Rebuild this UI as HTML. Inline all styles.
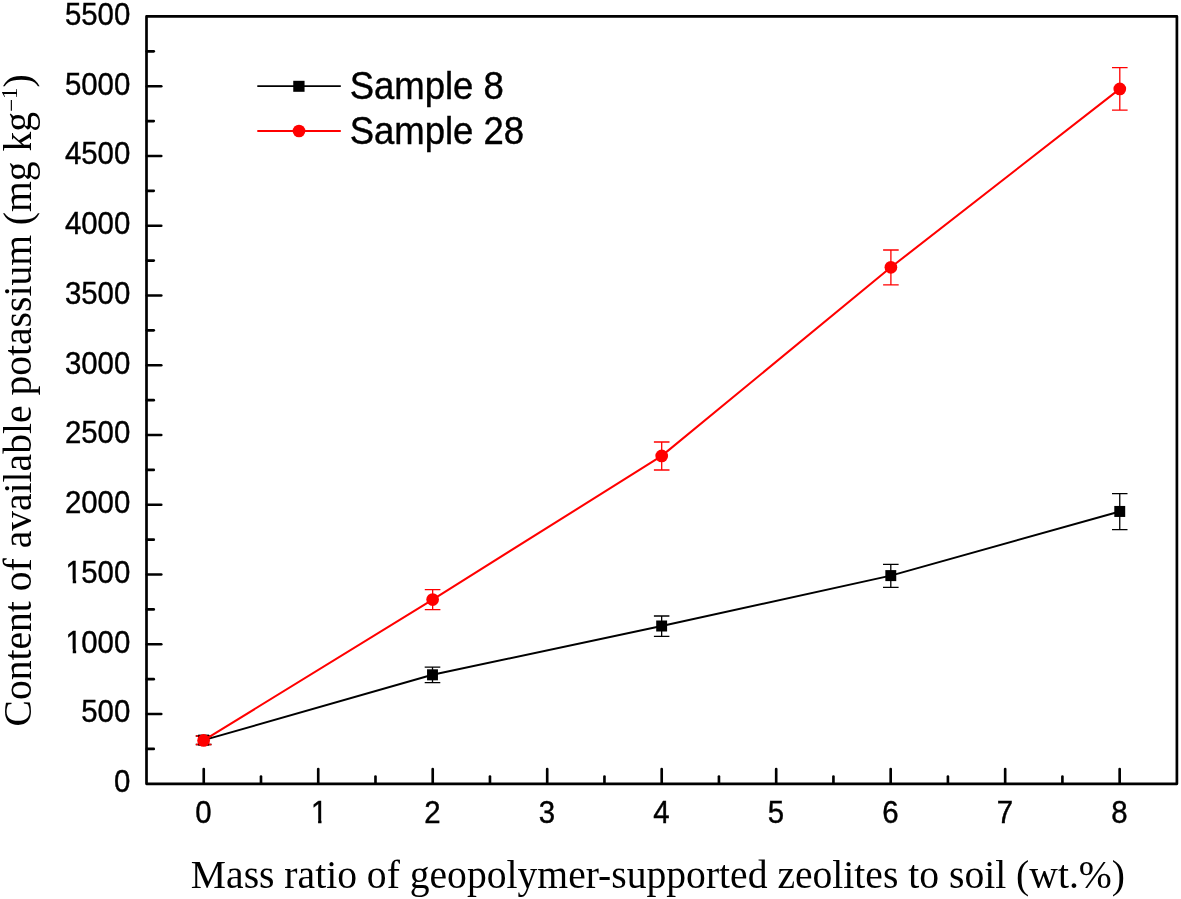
<!DOCTYPE html>
<html lang="en">
<head>
<meta charset="utf-8">
<title>Content of available potassium</title>
<style>
html,body{margin:0;padding:0;background:#fff;}
body{width:1181px;height:899px;overflow:hidden;}
svg{display:block;}
.sans{font-family:"Liberation Sans",Arial,Helvetica,sans-serif;fill:#000;}
.serif{font-family:"Liberation Serif","Times New Roman",Times,serif;fill:#000;}
</style>
</head>
<body>
<svg width="1181" height="899" viewBox="0 0 1181 899">
<rect x="0" y="0" width="1181" height="899" fill="#ffffff"/>
<rect x="146.5" y="16.45" width="1030.40" height="767.35" fill="none" stroke="#000" stroke-width="2.7" stroke-linejoin="round"/>
<g stroke="#000" stroke-width="2.65" stroke-linecap="round">
<line x1="146.9" y1="748.92" x2="153.75" y2="748.92"/>
<line x1="146.9" y1="714.04" x2="161.25" y2="714.04"/>
<line x1="146.9" y1="679.16" x2="153.75" y2="679.16"/>
<line x1="146.9" y1="644.28" x2="161.25" y2="644.28"/>
<line x1="146.9" y1="609.40" x2="153.75" y2="609.40"/>
<line x1="146.9" y1="574.52" x2="161.25" y2="574.52"/>
<line x1="146.9" y1="539.64" x2="153.75" y2="539.64"/>
<line x1="146.9" y1="504.76" x2="161.25" y2="504.76"/>
<line x1="146.9" y1="469.88" x2="153.75" y2="469.88"/>
<line x1="146.9" y1="435.00" x2="161.25" y2="435.00"/>
<line x1="146.9" y1="400.13" x2="153.75" y2="400.13"/>
<line x1="146.9" y1="365.25" x2="161.25" y2="365.25"/>
<line x1="146.9" y1="330.37" x2="153.75" y2="330.37"/>
<line x1="146.9" y1="295.49" x2="161.25" y2="295.49"/>
<line x1="146.9" y1="260.61" x2="153.75" y2="260.61"/>
<line x1="146.9" y1="225.73" x2="161.25" y2="225.73"/>
<line x1="146.9" y1="190.85" x2="153.75" y2="190.85"/>
<line x1="146.9" y1="155.97" x2="161.25" y2="155.97"/>
<line x1="146.9" y1="121.09" x2="153.75" y2="121.09"/>
<line x1="146.9" y1="86.21" x2="161.25" y2="86.21"/>
<line x1="146.9" y1="51.33" x2="153.75" y2="51.33"/>
<line x1="203.74" y1="783.4" x2="203.74" y2="769.05"/>
<line x1="260.99" y1="783.4" x2="260.99" y2="776.55"/>
<line x1="318.23" y1="783.4" x2="318.23" y2="769.05"/>
<line x1="375.48" y1="783.4" x2="375.48" y2="776.55"/>
<line x1="432.72" y1="783.4" x2="432.72" y2="769.05"/>
<line x1="489.96" y1="783.4" x2="489.96" y2="776.55"/>
<line x1="547.21" y1="783.4" x2="547.21" y2="769.05"/>
<line x1="604.45" y1="783.4" x2="604.45" y2="776.55"/>
<line x1="661.70" y1="783.4" x2="661.70" y2="769.05"/>
<line x1="718.94" y1="783.4" x2="718.94" y2="776.55"/>
<line x1="776.19" y1="783.4" x2="776.19" y2="769.05"/>
<line x1="833.43" y1="783.4" x2="833.43" y2="776.55"/>
<line x1="890.68" y1="783.4" x2="890.68" y2="769.05"/>
<line x1="947.92" y1="783.4" x2="947.92" y2="776.55"/>
<line x1="1005.17" y1="783.4" x2="1005.17" y2="769.05"/>
<line x1="1062.41" y1="783.4" x2="1062.41" y2="776.55"/>
<line x1="1119.66" y1="783.4" x2="1119.66" y2="769.05"/>
</g>
<g class="sans" font-size="29.4" text-anchor="end" stroke="#000" stroke-width="0.4">
<text transform="translate(130.3,792.10) scale(1,1.07)">0</text>
<text transform="translate(130.3,722.34) scale(1,1.07)">500</text>
<text transform="translate(130.3,652.58) scale(1,1.07)" text-anchor="start" x="-64.70 -49.05 -32.70 -16.35">1000</text>
<text transform="translate(130.3,582.82) scale(1,1.07)" text-anchor="start" x="-64.70 -49.05 -32.70 -16.35">1500</text>
<text transform="translate(130.3,513.06) scale(1,1.07)">2000</text>
<text transform="translate(130.3,443.30) scale(1,1.07)">2500</text>
<text transform="translate(130.3,373.55) scale(1,1.07)">3000</text>
<text transform="translate(130.3,303.79) scale(1,1.07)">3500</text>
<text transform="translate(130.3,234.03) scale(1,1.07)">4000</text>
<text transform="translate(130.3,164.27) scale(1,1.07)">4500</text>
<text transform="translate(130.3,94.51) scale(1,1.07)">5000</text>
<text transform="translate(130.3,24.75) scale(1,1.07)">5500</text>
</g>
<g class="sans" font-size="29.4" text-anchor="middle" stroke="#000" stroke-width="0.4">
<text transform="translate(203.44,822.9) scale(1,1.07)">0</text>
<text transform="translate(319.13,822.9) scale(1,1.07)">1</text>
<text transform="translate(432.42,822.9) scale(1,1.07)">2</text>
<text transform="translate(546.91,822.9) scale(1,1.07)">3</text>
<text transform="translate(661.40,822.9) scale(1,1.07)">4</text>
<text transform="translate(775.89,822.9) scale(1,1.07)">5</text>
<text transform="translate(890.38,822.9) scale(1,1.07)">6</text>
<text transform="translate(1004.87,822.9) scale(1,1.07)">7</text>
<text transform="translate(1119.36,822.9) scale(1,1.07)">8</text>
</g>
<rect x="66.00" y="649.28" width="6.75" height="4.9" fill="#fff"/><rect x="76.15" y="649.28" width="6.3" height="4.9" fill="#fff"/>
<rect x="66.00" y="579.52" width="6.75" height="4.9" fill="#fff"/><rect x="76.15" y="579.52" width="6.3" height="4.9" fill="#fff"/>
<rect x="311.35" y="819.60" width="6.75" height="4.9" fill="#fff"/><rect x="321.50" y="819.60" width="6.3" height="4.9" fill="#fff"/>
<text class="serif" font-size="39.62" transform="translate(657.9,888.0) scale(1,1.03)" text-anchor="middle">Mass ratio of geopolymer-supported zeolites to soil (wt.%)</text>
<text class="serif" font-size="39.6" transform="translate(31,726.5) rotate(-90) scale(1,1.03)" text-anchor="start">Content of available potassium (mg kg<tspan font-size="22.8" dy="-11.6">−</tspan><tspan font-size="22.8" dy="-2.1">1</tspan><tspan dy="13.7">)</tspan></text>
<g stroke="#000000" fill="none" stroke-width="1.3">
<path d="M203.65 736.0V744.5M195.8 736.0H211.5M195.8 744.5H211.5"/>
<path d="M432.5 667.2V682.7M424.7 667.2H440.3M424.7 682.7H440.3"/>
<path d="M661.65 616.0V636.3M653.9 616.0H669.4M653.9 636.3H669.4"/>
<path d="M890.8 564.45V587.4M883.0 564.45H898.6M883.0 587.4H898.6"/>
<path d="M1119.75 493.7V529.55M1112.0 493.7H1127.5M1112.0 529.55H1127.5"/>
</g>
<g stroke="#ff0000" fill="none" stroke-width="1.3">
<path d="M203.6 736.0V744.5M195.8 736.0H211.4M195.8 744.5H211.4"/>
<path d="M432.65 589.6V609.7M424.8 589.6H440.4M424.8 609.7H440.4"/>
<path d="M661.7 442.0V470.0M653.9 442.0H669.5M653.9 470.0H669.5"/>
<path d="M890.9 250.0V284.9M883.1 250.0H898.7M883.1 284.9H898.7"/>
<path d="M1119.8 67.7V110.2M1112.0 67.7H1127.6M1112.0 110.2H1127.6"/>
</g>
<polyline fill="none" stroke="#000000" stroke-width="1.95" stroke-linejoin="round" points="203.65,740.1 432.5,674.8 661.65,626.0 890.8,575.6 1119.75,511.45"/>
<g fill="#000000">
<rect x="198.20" y="734.60" width="10.9" height="11"/>
<rect x="427.05" y="669.30" width="10.9" height="11"/>
<rect x="656.20" y="620.50" width="10.9" height="11"/>
<rect x="885.35" y="570.10" width="10.9" height="11"/>
<rect x="1114.30" y="505.95" width="10.9" height="11"/>
</g>
<polyline fill="none" stroke="#ff0000" stroke-width="2.05" stroke-linejoin="round" points="203.6,740.4 432.65,599.6 661.7,455.9 890.9,267.3 1119.8,88.9"/>
<g fill="#ff0000">
<circle cx="203.6" cy="740.4" r="6.35"/>
<circle cx="432.65" cy="599.6" r="6.35"/>
<circle cx="661.7" cy="455.9" r="6.35"/>
<circle cx="890.9" cy="267.3" r="6.35"/>
<circle cx="1119.8" cy="88.9" r="6.35"/>
</g>
<g>
<line x1="257.3" y1="86.1" x2="340.8" y2="86.1" stroke="#000" stroke-width="1.55"/>
<rect x="293.25" y="80.8" width="11.3" height="11" fill="#000"/>
<line x1="257.3" y1="131.0" x2="340.8" y2="131.0" stroke="#ff0000" stroke-width="1.8"/>
<circle cx="299.0" cy="131.0" r="6.35" fill="#ff0000"/>
<g class="sans" font-size="36.5" stroke="#000" stroke-width="0.4">
<text transform="translate(349.7,99.2) scale(1,1.04)">Sample 8</text>
<text transform="translate(349.7,144.1) scale(1,1.04)">Sample 28</text>
</g>
</g>
</svg>
</body>
</html>
